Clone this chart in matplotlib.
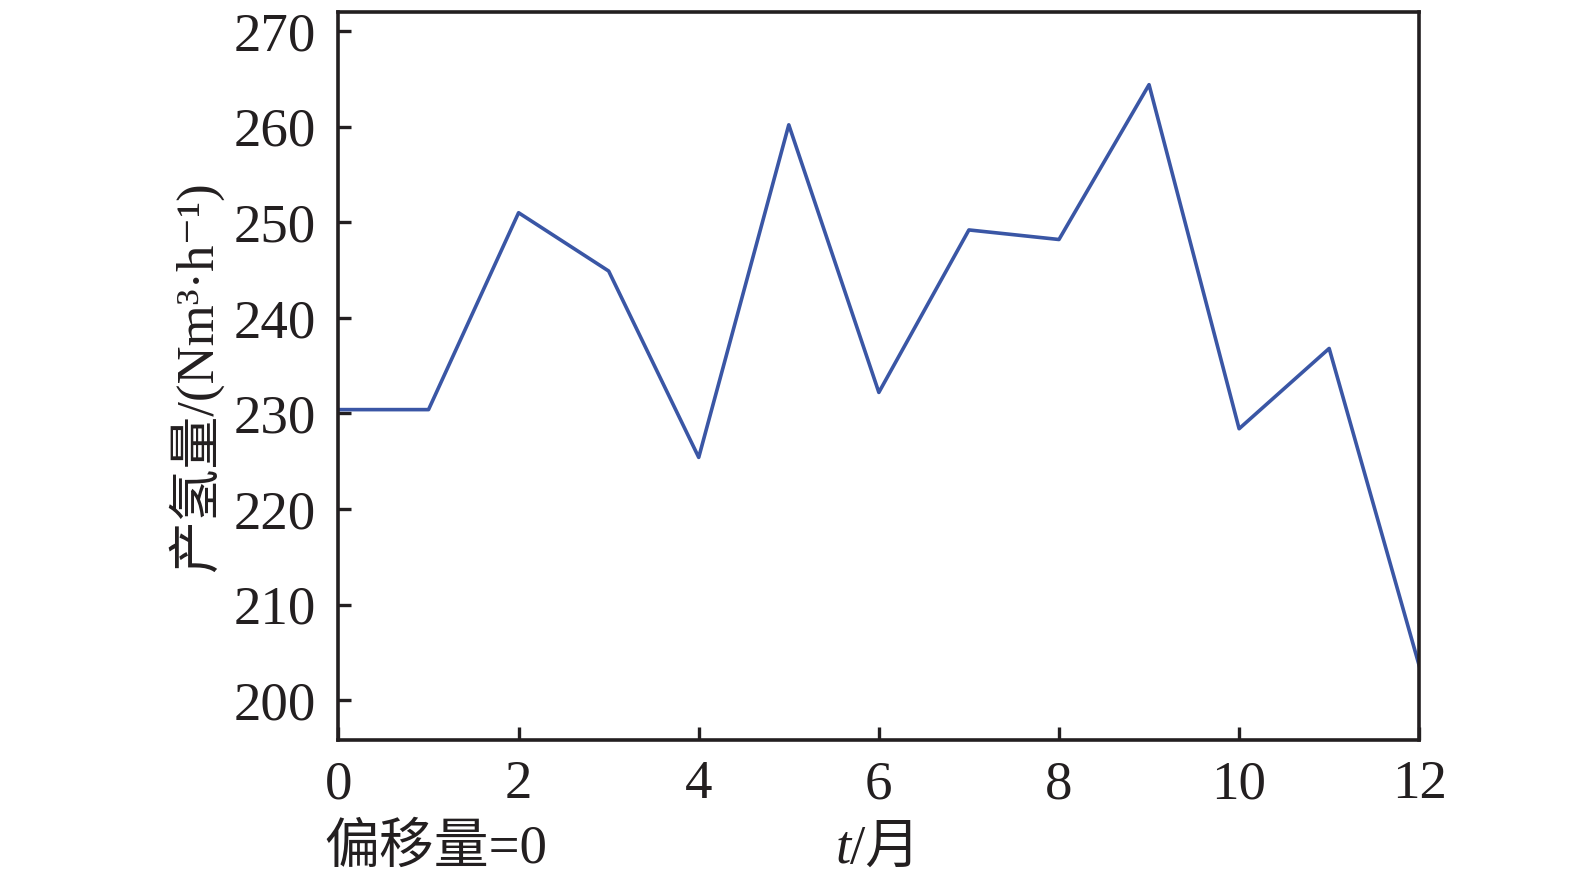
import matplotlib
matplotlib.use('Agg')
import matplotlib.pyplot as plt

plt.rcParams['font.family'] = ['Liberation Serif', 'Noto Sans CJK SC', 'DejaVu Serif']

months = [0, 1, 2, 3, 4, 5, 6, 7, 8, 9, 10, 11, 12]
h2 = [230.4, 230.4, 251.0, 244.9, 225.4, 260.2, 232.2, 249.2, 248.2, 264.4, 228.4, 236.8, 203.6]

xticks = [0, 2, 4, 6, 8, 10, 12]
yticks = [200, 210, 220, 230, 240, 250, 260, 270]

fig = plt.figure(figsize=(15.75, 8.85), dpi=100)
ax = fig.add_axes([0.2149, 0.1635, 0.6862, 0.8229])
ax.plot(months, h2, color='#3a56a5', lw=2.6)

ax.set_xlim(0, 12)
ax.set_ylim(195.8, 272)
ax.set_xticks(xticks)
ax.set_yticks(yticks)
ax.tick_params(direction='in', length=9.5, width=2.4, labelsize=39.5, pad=16,
               top=False, right=False, colors='#231f20')
ax.tick_params(axis='x', pad=14)
for s in ax.spines.values():
    s.set_linewidth(2.6)
    s.set_color('#231f20')

ax.set_ylabel('产氢量/(Nm³·h⁻¹)', fontsize=38, labelpad=8, color='#231f20')
fig.text(0.540, 0.025, 't', fontsize=39.5, style='italic', ha='right', color='#231f20')
fig.text(0.540, 0.025, '/月', fontsize=39.5, ha='left', color='#231f20')
fig.text(0.206, 0.025, '偏移量=0', fontsize=39.5, ha='left', color='#231f20')

fig.savefig('out.png', dpi=100)
